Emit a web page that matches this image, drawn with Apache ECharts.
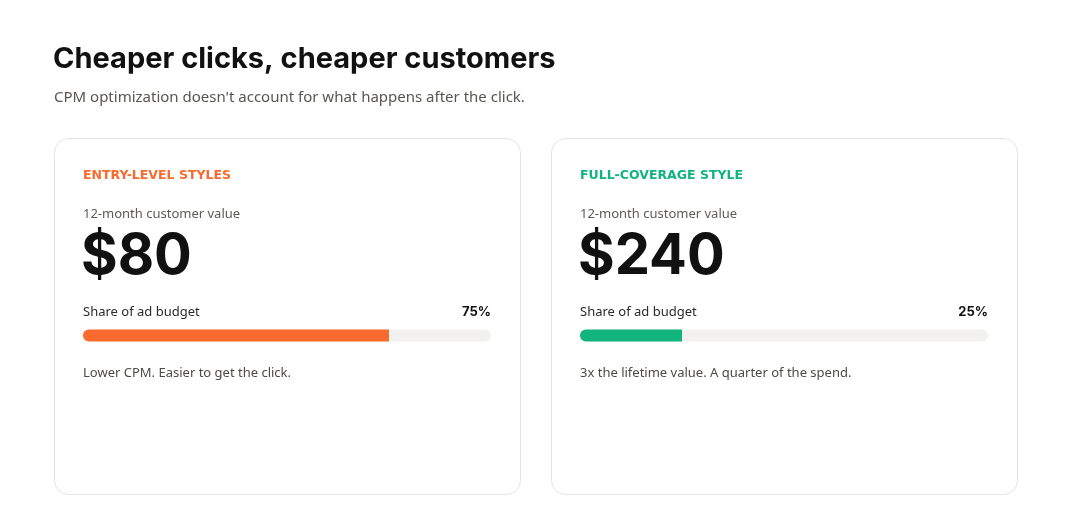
<!DOCTYPE html>
<html>
<head>
<meta charset="utf-8">
<script src="https://cdn.jsdelivr.net/npm/echarts@6/dist/echarts.min.js"></script>
<style>
  html, body { margin: 0; padding: 0; background: #fff; }
  #chart { width: 1069px; height: 531px; }
</style>
</head>
<body>
<div id="chart"></div>
<script>
var segments = ['ENTRY-LEVEL STYLES', 'FULL-COVERAGE STYLE'];
var customerValues = ['$80', '$240'];
var budgetShare = [75, 25];
var notes = ['Lower CPM. Easier to get the click.', '3x the lifetime value. A quarter of the spend.'];
var accentColors = ['#f96a2f', '#12b47d'];

initChart();
function initChart(){
    var dom = document.getElementById('chart');
    var myChart = echarts.init(dom, null, { renderer: 'canvas' });

    var cardLeft = [54, 551];
    var cardWidth = 466;
    var pad = 29;
    var barWidthPx = 408;

    var graphics = [
        { type: 'text', x: 53, y: 45, style: { text: 'Cheaper clicks, cheaper customers', fontFamily: 'Inter', fontWeight: 'bold', fontSize: 29, fill: '#111' } },
        { type: 'text', x: 54, y: 90, style: { text: "CPM optimization doesn't account for what happens after the click.", fontFamily: 'Noto Sans', fontSize: 15, fill: '#5a5552' } }
    ];
    var grids = [], xAxes = [], yAxes = [], series = [];

    segments.forEach(function(seg, i){
        var x0 = cardLeft[i];
        var tx = x0 + pad;
        graphics.push(
            { type: 'rect', shape: { x: x0 + 0.5, y: 138.5, width: cardWidth, height: 356, r: 14 }, style: { fill: '#fff', stroke: '#e6e4e2', lineWidth: 1 }, z: -1 },
            { type: 'text', x: tx, y: 169, style: { text: seg, fontFamily: 'DejaVu Sans', fontWeight: 'bold', fontSize: 12.5, fill: accentColors[i] } },
            { type: 'text', x: tx, y: 208, style: { text: '12-month customer value', fontFamily: 'Noto Sans', fontSize: 13, fill: '#5f5a57' } },
            { type: 'text', x: tx - 2, y: 229, style: { text: customerValues[i], fontFamily: 'Inter', fontWeight: 'bold', fontSize: 56, fill: '#111' } },
            { type: 'text', x: tx, y: 306, style: { text: 'Share of ad budget', fontFamily: 'Noto Sans', fontSize: 13, fill: '#2a2a2a' } },
            { type: 'text', x: tx + barWidthPx, y: 306, style: { text: budgetShare[i] + '%', fontFamily: 'Inter', fontWeight: 'bold', fontSize: 13, fill: '#111', align: 'right' } },
            { type: 'text', x: tx, y: 367, style: { text: notes[i], fontFamily: 'Noto Sans', fontSize: 13, fill: '#4e4a47' } }
        );
        grids.push({ left: tx, top: 329, width: barWidthPx, height: 13 });
        xAxes.push({ type: 'value', gridIndex: i, min: 0, max: 100, show: false });
        yAxes.push({ type: 'category', gridIndex: i, data: [seg], show: false });
        series.push({
            type: 'bar',
            xAxisIndex: i,
            yAxisIndex: i,
            data: [budgetShare[i]],
            barWidth: 12,
            showBackground: true,
            backgroundStyle: { color: '#f2f1f0', borderRadius: 6 },
            itemStyle: { color: accentColors[i], borderRadius: [6, 0, 0, 6] },
            silent: true
        });
    });

    var option = {
        animation: false,
        graphic: graphics,
        grid: grids,
        xAxis: xAxes,
        yAxis: yAxes,
        series: series
    };

    myChart.setOption(option);
    window.addEventListener('resize', myChart.resize);
}
</script>
</body>
</html>
